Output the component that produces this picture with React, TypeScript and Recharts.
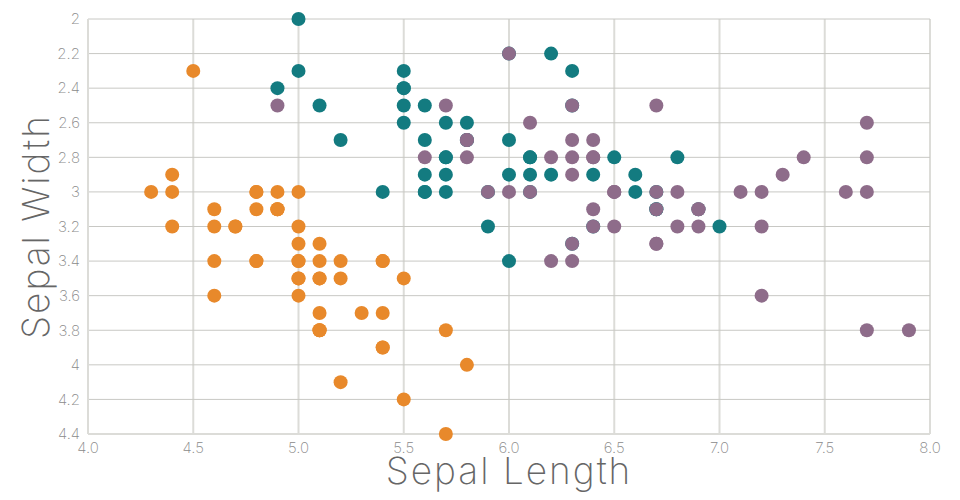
import { ScatterChart, Scatter, XAxis, YAxis, CartesianGrid, Label } from "recharts";

// Iris sepal measurements, [length, width] per flower
const setosa = [
  [5.1, 3.5], [4.9, 3.0], [4.7, 3.2], [4.6, 3.1], [5.0, 3.6], [5.4, 3.9], [4.6, 3.4], [5.0, 3.4], [4.4, 2.9], [4.9, 3.1],
  [5.4, 3.7], [4.8, 3.4], [4.8, 3.0], [4.3, 3.0], [5.8, 4.0], [5.7, 4.4], [5.4, 3.9], [5.1, 3.5], [5.7, 3.8], [5.1, 3.8],
  [5.4, 3.4], [5.1, 3.7], [4.6, 3.6], [5.1, 3.3], [4.8, 3.4], [5.0, 3.0], [5.0, 3.4], [5.2, 3.5], [5.2, 3.4], [4.7, 3.2],
  [4.8, 3.1], [5.4, 3.4], [5.2, 4.1], [5.5, 4.2], [4.9, 3.1], [5.0, 3.2], [5.5, 3.5], [4.9, 3.1], [4.4, 3.0], [5.1, 3.4],
  [5.0, 3.5], [4.5, 2.3], [4.4, 3.2], [5.0, 3.5], [5.1, 3.8], [4.8, 3.0], [5.1, 3.8], [4.6, 3.2], [5.3, 3.7], [5.0, 3.3],
];
const versicolor = [
  [7.0, 3.2], [6.4, 3.2], [6.9, 3.1], [5.5, 2.3], [6.5, 2.8], [5.7, 2.8], [6.3, 3.3], [4.9, 2.4], [6.6, 2.9], [5.2, 2.7],
  [5.0, 2.0], [5.9, 3.0], [6.0, 2.2], [6.1, 2.9], [5.6, 2.9], [6.7, 3.1], [5.6, 3.0], [5.8, 2.7], [6.2, 2.2], [5.6, 2.5],
  [5.9, 3.2], [6.1, 2.8], [6.3, 2.5], [6.1, 2.8], [6.4, 2.9], [6.6, 3.0], [6.8, 2.8], [6.7, 3.0], [6.0, 2.9], [5.7, 2.6],
  [5.5, 2.4], [5.5, 2.4], [5.8, 2.7], [6.0, 2.7], [5.4, 3.0], [6.0, 3.4], [6.7, 3.1], [6.3, 2.3], [5.6, 3.0], [5.5, 2.5],
  [5.5, 2.6], [6.1, 3.0], [5.8, 2.6], [5.0, 2.3], [5.6, 2.7], [5.7, 3.0], [5.7, 2.9], [6.2, 2.9], [5.1, 2.5], [5.7, 2.8],
];
const virginica = [
  [6.3, 3.3], [5.8, 2.7], [7.1, 3.0], [6.3, 2.9], [6.5, 3.0], [7.6, 3.0], [4.9, 2.5], [7.3, 2.9], [6.7, 2.5], [7.2, 3.6],
  [6.5, 3.2], [6.4, 2.7], [6.8, 3.0], [5.7, 2.5], [5.8, 2.8], [6.4, 3.2], [6.5, 3.0], [7.7, 3.8], [7.7, 2.6], [6.0, 2.2],
  [6.9, 3.2], [5.6, 2.8], [7.7, 2.8], [6.3, 2.7], [6.7, 3.3], [7.2, 3.2], [6.2, 2.8], [6.1, 3.0], [6.4, 2.8], [7.2, 3.0],
  [7.4, 2.8], [7.9, 3.8], [6.4, 2.8], [6.3, 2.8], [6.1, 2.6], [7.7, 3.0], [6.3, 3.4], [6.4, 3.1], [6.0, 3.0], [6.9, 3.1],
  [6.7, 3.1], [6.9, 3.1], [5.8, 2.7], [6.8, 3.2], [6.7, 3.3], [6.7, 3.0], [6.3, 2.5], [6.5, 3.0], [6.2, 3.4], [5.9, 3.0],
];

const xTicks = [4.0, 4.5, 5.0, 5.5, 6.0, 6.5, 7.0, 7.5, 8.0];
const yTicks = [2, 2.2, 2.4, 2.6, 2.8, 3, 3.2, 3.4, 3.6, 3.8, 4, 4.2, 4.4];

const toPoints = (rows: number[][]) => rows.map(([x, y]) => ({ x, y }));

const FONT = "Inter, Lato, sans-serif";

const Dot = (color: string) => (props: any) => (
  <circle cx={props.cx} cy={props.cy} r={7} fill={color} />
);

export default function App() {
  const tick = { fill: "#8a8a8a", fontSize: 15, fontFamily: FONT, fontWeight: 200 };
  const title = { fill: "#666", fontSize: 37, fontFamily: FONT, fontWeight: 200, letterSpacing: 2 };
  return (
    <div style={{ position: "absolute", left: 0, top: 0 }}>
      <ScatterChart width={960} height={500} margin={{ top: 19, right: 30, bottom: 36, left: 28 }}>
        <CartesianGrid horizontal={false} stroke="#dcdcd8" strokeWidth={2} />
        <CartesianGrid vertical={false} stroke="#c8c8c4" strokeWidth={1} />
        <XAxis
          type="number"
          dataKey="x"
          domain={[4, 8]}
          ticks={xTicks}
          tickFormatter={(v: number) => v.toFixed(1)}
          tick={tick}
          tickLine={false}
          axisLine={{ stroke: "#dcdcd8", strokeWidth: 2 }}
          height={30}
          interval={0}
        >
          <Label value="Sepal Length" position="bottom" offset={-6} style={title} />
        </XAxis>
        <YAxis
          type="number"
          dataKey="y"
          domain={[2, 4.4]}
          reversed
          ticks={yTicks}
          tick={tick}
          tickLine={false}
          axisLine={{ stroke: "#dcdcd8", strokeWidth: 2 }}
          width={60}
          interval={0}
        >
          <Label
            value="Sepal Width"
            angle={-90}
            position="left"
            offset={-8}
            style={{ ...title, textAnchor: "middle" }}
          />
        </YAxis>
        <Scatter data={toPoints(setosa)} shape={Dot("#e8892b")} isAnimationActive={false} />
        <Scatter data={toPoints(versicolor)} shape={Dot("#137b80")} isAnimationActive={false} />
        <Scatter data={toPoints(virginica)} shape={Dot("#8e6c8a")} isAnimationActive={false} />
      </ScatterChart>
    </div>
  );
}
